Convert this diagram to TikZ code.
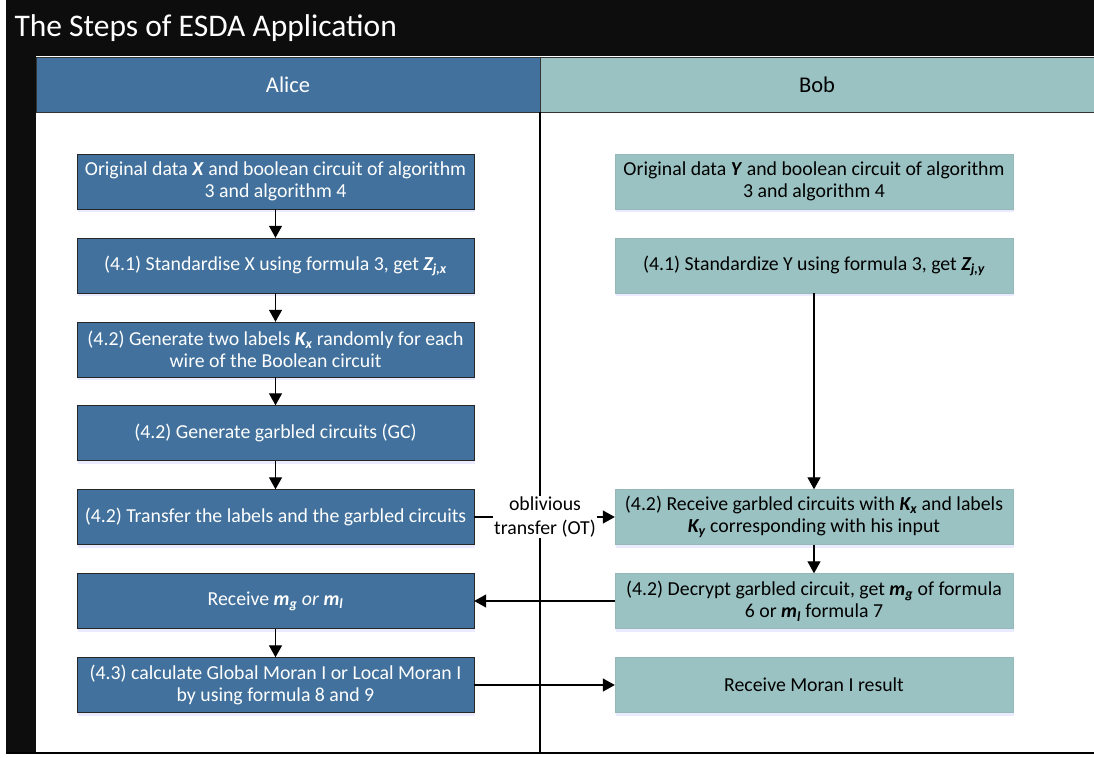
\documentclass[tikz,border=0pt]{standalone}
\usepackage{fontspec}
\setmainfont{Carlito}
\usepackage{tikz}
\usetikzlibrary{arrows.meta,shadows}

\definecolor{titleblk}{HTML}{0D0D0D}
\definecolor{aliceblue}{HTML}{41719C}
\definecolor{bobteal}{HTML}{9BC2C2}
\newcommand{\bvar}[2]{\textbf{\textit{#1\textsubscript{#2}}}}

\begin{document}
\begin{tikzpicture}[x=1pt,y=-1pt,
    abox/.style={draw=black!85,fill=aliceblue,text=white,minimum width=397pt,minimum height=55pt,align=center,inner sep=2pt,
        font=\fontsize{19.8}{22.5}\selectfont,drop shadow={fill=blue!8,shadow xshift=1pt,shadow yshift=-3pt,opacity=1}},
    bbox/.style={draw=bobteal!85!gray,fill=bobteal,text=black,minimum width=398pt,minimum height=55pt,align=center,inner sep=2pt,
        font=\fontsize{19.8}{22.5}\selectfont,drop shadow={fill=blue!8,shadow xshift=1pt,shadow yshift=-3pt,opacity=1}},
    arr/.style={-{Triangle[length=12pt,width=13pt]},line width=1.3pt},
    ln/.style={line width=1.3pt}]
    \useasboundingbox (0,0) rectangle (1094,757);

    % frame and lanes
    \fill[titleblk] (6,0) rectangle (1094,56);
    \fill[titleblk] (6,56) rectangle (36,754);
    \draw[black!80,fill=aliceblue] (36,57) rectangle (540,112);
    \draw[black!80,fill=bobteal] (540,57) rectangle (1096,112);
    \draw[ln] (540,112) -- (540,754);
    \draw[line width=2.5pt] (6,753) -- (1094,753);

    \node[anchor=west,text=white,font=\fontsize{31.5}{36}\selectfont] (title) at (11,28) {The Steps of ESDA Application};
    \node[text=white,font=\fontsize{22.5}{26}\selectfont] (alice) at (288,85) {Alice};
    \node[text=black,font=\fontsize{22.5}{26}\selectfont] (bob) at (817,85) {Bob};

    % Alice
    \node[abox] (a1) at (275.5,181.5) {Original data \textbf{\textit{X}} and boolean circuit of algorithm\\3 and algorithm 4};
    \node[abox] (a2) at (275.5,265.5) {(4.1) Standardise X using formula 3, get \bvar{Z}{j,x}};
    \node[abox] (a3) at (275.5,349.5) {(4.2) Generate two labels \bvar{K}{x} randomly for each\\wire of the Boolean circuit};
    \node[abox] (a4) at (275.5,433) {(4.2) Generate garbled circuits (GC)};
    \node[abox] (a5) at (275.5,517) {(4.2) Transfer the labels and the garbled circuits};
    \node[abox] (a6) at (275.5,601) {Receive \bvar{m}{g} \textit{or} \bvar{m}{l}};
    \node[abox] (a7) at (275.5,685) {(4.3) calculate Global Moran I or Local Moran I\\by using formula 8 and 9};

    % Bob
    \node[bbox] (b1) at (814,181.5) {Original data \textbf{\textit{Y}} and boolean circuit of algorithm\\3 and algorithm 4};
    \node[bbox] (b2) at (814,265.5) {(4.1) Standardize Y using formula 3, get \bvar{Z}{j,y}};
    \node[bbox] (b3) at (814,517) {(4.2) Receive garbled circuits with \bvar{K}{x} and labels\\\bvar{K}{y} corresponding with his input};
    \node[bbox] (b4) at (814,601) {(4.2) Decrypt garbled circuit, get \bvar{m}{g} of formula\\6 or \bvar{m}{l} formula 7};
    \node[bbox] (b5) at (814,685) {Receive Moran I result};

    \node[fill=white,align=center,inner sep=1pt,font=\fontsize{19.8}{24}\selectfont] (ot) at (545,517) {oblivious\\transfer (OT)};

    \draw[arr] (a1) -- (a2);
    \draw[arr] (a2) -- (a3);
    \draw[arr] (a3) -- (a4);
    \draw[arr] (a4) -- (a5);
    \draw[arr] (a6) -- (a7);
    \draw[arr] (b2) -- (b3);
    \draw[arr] (b3) -- (b4);
    \draw[ln] (a5) -- (ot);
    \draw[arr] (ot) -- (b3);
    \draw[arr] (b4) -- (a6);
    \draw[arr] (a7) -- (b5);
\end{tikzpicture}
\end{document}
